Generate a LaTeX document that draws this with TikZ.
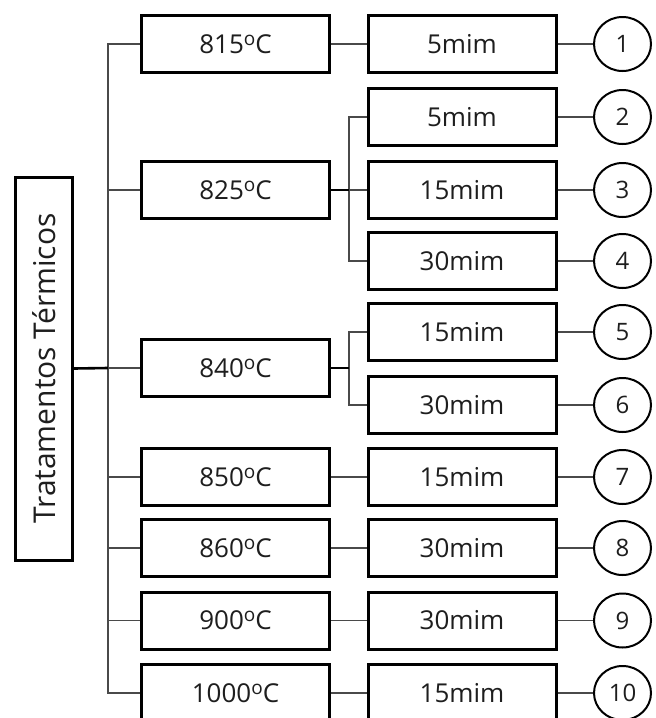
\documentclass[tikz,border=0pt]{standalone}
\usepackage{fontspec}
\setmainfont{Open Sans}
\definecolor{TTBlack}{HTML}{000000}
\definecolor{TTText}{HTML}{1E1E1E}
\definecolor{TTLine}{HTML}{4A4A4A}
\usetikzlibrary{shapes.geometric, positioning}
\newcommand{\degC}{\raisebox{8pt}{\fontsize{19}{19}\selectfont o}C}
\tikzset{
    tempbox/.style={
        draw=TTBlack,
        line width=3pt,
        fill=white,
        minimum width=188pt,
        minimum height=57pt,
        text=TTText,
        font=\fontsize{26}{30}\selectfont,
        align=center,
        inner sep=0pt
    },
    timebox/.style={
        tempbox
    },
    mainbox/.style={
        draw=TTBlack,
        line width=3pt,
        fill=white,
        rotate=90,
        minimum width=383pt,
        minimum height=57pt,
        text=TTText,
        font=\fontsize{30}{34}\selectfont,
        inner sep=0pt
    },
    numcircle/.style={
        ellipse,
        draw=TTBlack,
        line width=2pt,
        fill=white,
        minimum width=57pt,
        minimum height=54pt,
        text=TTText,
        font=\fontsize{24}{28}\selectfont,
        inner sep=0pt
    },
    link/.style={
        draw=TTLine,
        line width=1.6pt
    },
    stem/.style={
        draw=TTBlack,
        line width=2.6pt
    }
}

\begin{document}
\begin{tikzpicture}[x=1pt, y=-1pt]
    \useasboundingbox (0,0) rectangle (656,718);

    \node[mainbox] (main) at (44,368.5) {Tratamentos Térmicos};

    % temperatures
    \node[tempbox] (t1) at (235.5,44) {815\degC};
    \node[tempbox] (t2) at (235.5,190) {825\degC};
    \node[tempbox] (t3) at (235.5,368) {840\degC};
    \node[tempbox] (t4) at (235.5,477) {850\degC};
    \node[tempbox] (t5) at (235.5,548) {860\degC};
    \node[tempbox] (t6) at (235.5,620.5) {900\degC};
    \node[tempbox] (t7) at (235.5,693) {1000\degC};

    % times
    \node[timebox] (m1) at (462,44) {5mim};
    \node[timebox] (m2) at (462,117) {5mim};
    \node[timebox] (m3) at (462,190) {15mim};
    \node[timebox] (m4) at (462,261) {30mim};
    \node[timebox] (m5) at (462,332) {15mim};
    \node[timebox] (m6) at (462,405) {30mim};
    \node[timebox] (m7) at (462,477) {15mim};
    \node[timebox] (m8) at (462,548) {30mim};
    \node[timebox] (m9) at (462,620.5) {30mim};
    \node[timebox] (m10) at (462,693) {15mim};

    % samples
    \node[numcircle] (n1) at (622.5,44) {1};
    \node[numcircle] (n2) at (622.5,117) {2};
    \node[numcircle] (n3) at (622.5,190) {3};
    \node[numcircle] (n4) at (622.5,261) {4};
    \node[numcircle] (n5) at (622.5,332) {5};
    \node[numcircle] (n6) at (622.5,405) {6};
    \node[numcircle] (n7) at (622.5,477) {7};
    \node[numcircle] (n8) at (622.5,548) {8};
    \node[numcircle] (n9) at (622.5,620.5) {9};
    \node[numcircle] (n10) at (622.5,693) {10};

    % trunk
    \coordinate (trunk) at (108,368);
    \draw[link] (trunk) |- (t1.west);
    \draw[link] (trunk) |- (t2.west);
    \draw[link] (trunk) -- (t3.west);
    \draw[link] (trunk) |- (t4.west);
    \draw[link] (trunk) |- (t5.west);
    \draw[link] (trunk) |- (t6.west);
    \draw[link] (trunk) |- (t7.west);
    \draw[stem] (main.south) -- (trunk);

    % branches
    \coordinate (j2) at (349,190);
    \coordinate (j3) at (349,368);
    \draw[link] (t1.east) -- (m1.west);
    \draw[link] (j2) |- (m2.west);
    \draw[link] (j2) -- (m3.west);
    \draw[link] (j2) |- (m4.west);
    \draw[stem] (t2.east) -- (j2);
    \draw[link] (j3) |- (m5.west);
    \draw[link] (j3) |- (m6.west);
    \draw[stem] (t3.east) -- (j3);
    \draw[link] (t4.east) -- (m7.west);
    \draw[link] (t5.east) -- (m8.west);
    \draw[link] (t6.east) -- (m9.west);
    \draw[link] (t7.east) -- (m10.west);

    \draw[link] (m1.east) -- (n1.west);
    \draw[link] (m2.east) -- (n2.west);
    \draw[link] (m3.east) -- (n3.west);
    \draw[link] (m4.east) -- (n4.west);
    \draw[link] (m5.east) -- (n5.west);
    \draw[link] (m6.east) -- (n6.west);
    \draw[link] (m7.east) -- (n7.west);
    \draw[link] (m8.east) -- (n8.west);
    \draw[link] (m9.east) -- (n9.west);
    \draw[link] (m10.east) -- (n10.west);
\end{tikzpicture}
\end{document}
